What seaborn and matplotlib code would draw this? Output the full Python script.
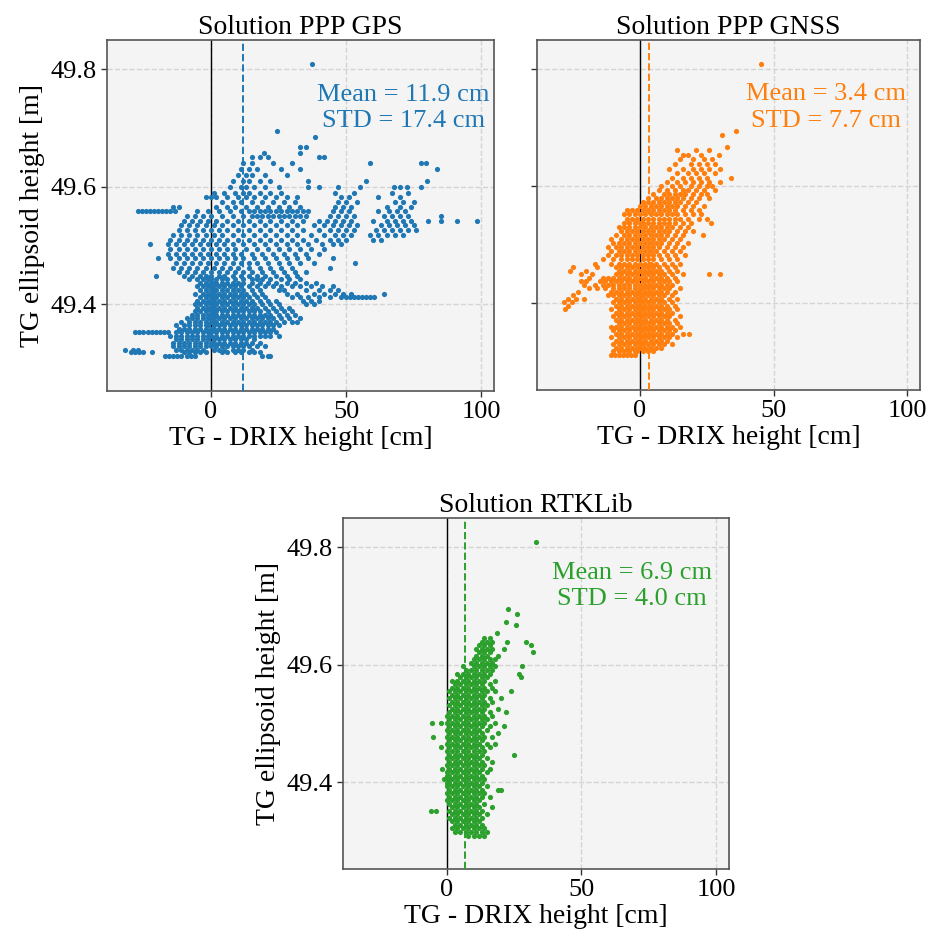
import pandas as pd
import seaborn as sns
import matplotlib
matplotlib.use("Agg")
import matplotlib.pyplot as plt

# each row: (TG ellipsoid height [m], list of TG - DRIX differences [cm])
gps_rows = [
    (49.312, [-17, -15.5, -14, -12.5, -11, -9, -7.5, -6, 19, 21, 22]),
    (49.318, [-29.5, -28, -26.5, -25, -22, -10, -8, -6, -4, -2, 4, 6, 9, 11, 14, 16, 18]),
    (49.322, [-32, -29, -27, -13, -11, -9, -7, -5, -3, 1, 3, 5, 8, 10, 12, 15]),
    (49.328, [-14, -12, -10, -8, -6, -4, -2, 0, 2, 4, 6, 8, 10, 12, 14, 17, 20]),
    (49.334, [-14, -12, -10, -8, -6, -4, -2, 0, 1, 3, 5, 7, 9, 11, 13, 15, 18]),
    (49.340, [-13, -11, -9, -7, -5, -3, -1, 1, 3, 5, 7, 9, 11, 13, 16]),
    (49.346, [-15, -13, -11, -9, -7, -5, -3, -1, 0, 2, 4, 6, 8, 10, 12, 14, 16, 18, 20, 22, 25]),
    (49.352, [-28, -26.5, -25, -23.5, -22, -20.5, -19, -17.5, -16, -13, -11, -9, -7, -5, -3, -1, 0, 2, 4,
              6, 8, 10, 12, 14, 16, 18, 20, 22, 24]),
    (49.358, [-12, -10, -8, -6, -4, -2, 0, 1, 3, 5, 7, 9, 11, 13, 15, 17, 19, 21, 23]),
    (49.364, [-13, -10, -8, -6, -4, -2, -1, 1, 3, 5, 7, 9, 11, 13, 15, 17, 19, 21, 23, 25]),
    (49.370, [-11, -8, -6, -4, -2, 0, 1, 2, 4, 6, 8, 10, 12, 14, 16, 18, 20, 22, 24, 27, 30, 32]),
    (49.376, [-9, -7, -5, -3, -1, 0, 1, 3, 5, 7, 9, 11, 13, 15, 17, 19, 21, 23, 26, 29, 33]),
    (49.382, [-7, -5, -3, -1, 0, 1, 2, 4, 6, 8, 10, 12, 14, 16, 18, 20, 22, 25, 28, 31]),
    (49.388, [-6, -4, -2, 0, 1, 2, 4, 6, 8, 10, 12, 14, 16, 18, 21, 24, 27, 30]),
    (49.394, [-5, -3, -1, 0, 1, 3, 5, 7, 9, 11, 13, 15, 17, 20, 23, 26, 29]),
    (49.400, [-6, -4, -2, 0, 1, 2, 4, 6, 8, 10, 12, 14, 16, 19, 22, 25, 35, 38]),
    (49.406, [-5, -3, -1, 0, 1, 3, 5, 7, 9, 11, 13, 15, 18, 21, 24, 34, 37, 40]),
    (49.412, [-4, -2, 0, 1, 2, 4, 6, 8, 10, 12, 14, 17, 20, 30, 33, 36, 40, 44, 48, 50, 51.5, 53, 54.5,
              56, 57.5, 59, 60.5]),
    (49.418, [-6, -3, -1, 0, 1, 3, 5, 7, 9, 11, 13, 16, 19, 28, 32, 38, 42, 46, 49, 52, 64]),
    (49.424, [-4, -2, 0, 1, 2, 4, 6, 8, 10, 12, 15, 18, 25, 27, 35, 40, 44, 47]),
    (49.430, [-5, -3, -1, 0, 1, 3, 5, 7, 9, 11, 14, 17, 20, 23, 26, 30, 33, 37, 41, 45]),
    (49.436, [-4, -2, 0, 1, 2, 4, 6, 8, 10, 12, 15, 18, 21, 24, 28, 31, 35, 39]),
    (49.442, [-8, -5, -3, -1, 0, 2, 4, 6, 9, 12, 15, 17, 19, 22, 26, 29, 33]),
    (49.448, [-20.5, -10, -7, -4, -2, 0, 3, 5, 8, 11, 14, 17, 20, 24, 28, 32]),
    (49.455, [-12, -9, -6, -3, 0, 3, 6, 9, 12, 15, 19, 23, 27, 31, 35]),
    (49.462, [-14, -11, -8, -5, -2, 1, 4, 7, 10, 14, 18, 22, 26, 30, 44]),
    (49.470, [-13, -10, -7, -4, -1, 2, 5, 8, 11, 14, 17, 21, 25, 29, 33, 38, 53.5]),
    (49.478, [-19.5, -15, -12, -9, -6, -3, 0, 3, 6, 9, 12, 16, 20, 24, 28, 32, 36, 45]),
    (49.486, [-16, -13, -10, -7, -4, -1, 2, 5, 8, 11, 15, 19, 23, 27, 31, 35, 40]),
    (49.494, [-15, -12, -9, -6, -3, 0, 3, 6, 9, 13, 17, 21, 25, 29, 33, 37, 42]),
    (49.502, [-22.5, -16, -13, -10, -7, -4, -1, 2, 5, 8, 12, 16, 20, 24, 28, 32, 36, 41, 45, 48]),
    (49.510, [-15, -12, -9, -6, -3, 0, 3, 6, 10, 14, 18, 22, 26, 30, 34, 39, 44, 47, 50, 60, 63]),
    (49.518, [-14, -11, -8, -5, -2, 1, 4, 8, 12, 16, 20, 24, 28, 32, 37, 42, 46, 49, 52, 59, 62, 65, 68, 71]),
    (49.526, [-12, -9, -6, -3, 0, 3, 6, 10, 14, 18, 22, 26, 30, 34, 40, 44, 47, 50, 53, 61, 64, 67, 70,
              73, 76]),
    (49.534, [-11, -8, -5, -2, 1, 4, 8, 12, 16, 20, 24, 28, 32, 38, 42, 45, 48, 51, 54, 63, 66, 69, 72, 75]),
    (49.542, [-10, -7, -4, -1, 2, 6, 10, 14, 18, 22, 26, 30, 34, 40, 43, 46, 49, 52, 60, 65, 68, 71, 74,
              80.5, 85, 91, 98.5]),
    (49.550, [-9, -6, -3, 0, 4, 8, 12, 15, 17, 19, 21, 23, 25, 27, 29, 31, 33, 35, 44, 47, 50, 53, 64, 67,
              70, 73, 85]),
    (49.558, [-27, -25.5, -24, -22.5, -21, -19.5, -18, -16.5, -15, -13.5, -5, -1, 3, 7, 11, 14, 16, 18,
              20, 22, 24, 26, 28, 30, 32, 34, 36, 45, 48, 51, 62, 66, 69, 72]),
    (49.566, [-14, -12, 2, 6, 9, 13, 17, 21, 25, 29, 33, 46, 49, 52, 65, 70, 74]),
    (49.574, [4, 8, 11, 15, 19, 23, 27, 31, 47, 50, 54, 68, 71, 75]),
    (49.582, [-2, 0, 2, 6, 10, 13, 16, 20, 24, 28, 32, 48, 51, 62, 70]),
    (49.590, [1, 5, 9, 12, 14, 18, 22, 26, 46, 53, 67, 73]),
    (49.600, [7, 11, 13, 16, 20, 25, 36, 40, 47, 55, 67.7, 70, 72.7, 77.6]),
    (49.610, [8, 12, 14, 18, 22, 36, 57.5, 80]),
    (49.620, [10, 13, 15, 20, 28]),
    (49.630, [11, 14, 17, 26, 33, 83.7]),
    (49.640, [12, 15, 23, 30, 59, 77.6, 79.5]),
    (49.650, [15, 18, 21, 40, 42]),
    (49.657, [19.6, 33]),
    (49.668, [33, 35]),
    (49.685, [38.6]),
    (49.695, [24.5]),
    (49.809, [37.3]),
]

gnss_rows = [
    (49.312, [-11, -9.5, -8, -6.5, -5, -3.5, -2]),
    (49.318, [-10, -8, -6, -4, -2, -1, 1, 3, 5]),
    (49.324, [-9, -7, -5, -3, -1, 0, 2, 4, 6, 8]),
    (49.330, [-10, -8, -6, -4, -2, 0, 1, 3, 5, 7, 9, 12]),
    (49.336, [-9, -7, -5, -3, -1, 0, 2, 4, 6, 8, 10]),
    (49.342, [-11, -8, -6, -4, -2, 0, 1, 3, 5, 7, 9, 11, 14]),
    (49.348, [-9, -7, -5, -3, -1, 0, 2, 4, 6, 8, 10, 12, 16, 18.5]),
    (49.354, [-10, -8, -6, -4, -2, 0, 1, 3, 5, 7, 9, 11, 13]),
    (49.360, [-11, -9, -7, -5, -3, -1, 0, 2, 4, 6, 8, 10, 12, 15]),
    (49.366, [-8, -6, -4, -2, 0, 1, 3, 5, 7, 9, 11, 14]),
    (49.372, [-9, -7, -5, -3, -1, 0, 2, 4, 6, 8, 10, 13]),
    (49.378, [-10, -8, -6, -4, -2, 0, 1, 3, 5, 7, 9, 11, 15]),
    (49.384, [-9, -7, -5, -3, -1, 0, 2, 4, 6, 8, 10, 12]),
    (49.390, [-28, -11, -8, -6, -4, -2, 0, 1, 3, 5, 7, 9, 11, 14]),
    (49.396, [-27, -9, -7, -5, -3, -1, 0, 2, 4, 6, 8, 10, 13]),
    (49.402, [-28.5, -25.5, -10, -8, -6, -4, -2, 0, 1, 3, 5, 7, 9, 12]),
    (49.408, [-27, -24, -21, -9, -7, -5, -3, -1, 0, 2, 4, 6, 8, 11, 14]),
    (49.414, [-25, -12, -10, -8, -6, -4, -2, 0, 1, 3, 5, 7, 9, 12]),
    (49.420, [-23, -11, -9, -7, -5, -3, -1, 0, 2, 4, 6, 8, 10, 13]),
    (49.426, [-19, -16, -13, -10, -8, -6, -4, -2, 0, 1, 3, 5, 7, 9, 11, 15]),
    (49.432, [-21, -17, -14, -12, -10, -8, -6, -4, -2, 0, 2, 4, 6, 8, 10, 12]),
    (49.438, [-22, -20, -15, -13, -11, -9, -7, -5, -3, -1, 1, 3, 5, 7, 9, 11, 14]),
    (49.444, [-19, -14, -12, -10, -8, -6, -4, -2, 0, 2, 4, 6, 8, 10, 13]),
    (49.450, [-22, -18, -9, -7, -5, -3, -1, 1, 3, 5, 7, 9, 12, 16, 25.9, 29.9]),
    (49.456, [-26, -20, -8, -6, -4, -2, 0, 2, 4, 6, 8, 11, 14]),
    (49.462, [-25, -16, -9, -7, -5, -3, -1, 1, 3, 5, 7, 10, 13]),
    (49.468, [-17, -11, -8, -6, -4, -2, 0, 2, 4, 6, 9, 12, 15]),
    (49.475, [-14, -10, -7, -5, -3, -1, 1, 3, 5, 8, 11, 14]),
    (49.482, [-12, -9, -7, -5, -3, -1, 1, 3, 5, 7, 10, 13, 17]),
    (49.489, [-11, -8, -6, -4, -2, 0, 2, 4, 6, 9, 12, 15]),
    (49.496, [-12, -9, -7, -5, -3, -1, 1, 3, 5, 7, 10, 13, 16]),
    (49.503, [-10, -8, -6, -4, -2, 0, 2, 4, 6, 8, 11, 14, 18]),
    (49.510, [-11, -7, -5, -3, -1, 1, 3, 5, 7, 9, 12, 15]),
    (49.517, [-9, -6, -4, -2, 0, 2, 4, 6, 8, 10, 13, 16, 23.6]),
    (49.524, [-7, -5, -3, -1, 1, 3, 5, 7, 9, 11, 14, 17, 20]),
    (49.531, [-8, -6, -4, -2, 0, 2, 4, 6, 8, 10, 12, 15, 18]),
    (49.538, [-6, -4, -2, 0, 1, 3, 5, 7, 9, 11, 13, 16, 19, 26.5]),
    (49.545, [-5, -3, -1, 1, 3, 5, 7, 9, 11, 13, 15, 18, 22, 25]),
    (49.552, [-6, -4, -2, 0, 2, 4, 6, 8, 10, 12, 14, 17, 20, 23]),
    (49.559, [-5, -3, -1, 1, 3, 5, 7, 9, 11, 13, 16, 19, 22]),
    (49.566, [0, 2, 4, 6, 8, 10, 12, 14, 17, 20, 24]),
    (49.573, [1, 3, 5, 7, 9, 11, 13, 15, 18, 21]),
    (49.580, [3, 6, 8, 10, 12, 14, 16, 19, 22, 26]),
    (49.587, [5, 9, 11, 13, 15, 17, 20, 23, 25]),
    (49.594, [7, 10, 13, 16, 18, 21, 24, 28]),
    (49.601, [8, 12, 15, 19, 22, 25, 27]),
    (49.608, [10, 14, 17, 20, 23, 26, 30]),
    (49.615, [12, 16, 19, 22, 25, 34]),
    (49.622, [14, 18, 21, 24, 28]),
    (49.630, [11, 16, 20, 23, 26, 30]),
    (49.638, [13, 19, 22, 25, 28]),
    (49.646, [15, 20, 24, 27]),
    (49.654, [16, 18, 23, 29.5]),
    (49.662, [14, 21, 26]),
    (49.668, [32.6]),
    (49.688, [30.8]),
    (49.695, [36]),
    (49.809, [45.2]),
]

rtk_rows = [
    (49.309, [8, 10, 12, 14]),
    (49.315, [3, 5, 7, 9, 11, 13, 15]),
    (49.321, [2, 4, 6, 8, 10, 12, 14]),
    (49.327, [3, 5, 7, 9, 11, 13]),
    (49.333, [2, 4, 6, 8, 10, 12]),
    (49.339, [1, 3, 5, 7, 9, 11, 13]),
    (49.345, [2, 4, 6, 8, 10, 12, 15]),
    (49.351, [-5.7, -4, 1, 3, 5, 7, 9, 11, 13]),
    (49.357, [2, 4, 6, 8, 10, 12, 17]),
    (49.363, [1, 3, 5, 7, 9, 11, 14]),
    (49.369, [0, 2, 4, 6, 8, 10, 12]),
    (49.375, [1, 3, 5, 7, 9, 11, 13, 16]),
    (49.381, [0, 2, 4, 6, 8, 10, 12, 14]),
    (49.387, [1, 3, 5, 7, 9, 11, 13, 19, 20]),
    (49.393, [0, 2, 4, 6, 8, 10, 12, 15]),
    (49.399, [0, 1, 3, 5, 7, 9, 11, 13]),
    (49.405, [-1, 1, 2, 4, 6, 8, 10, 12, 14]),
    (49.411, [0, 1, 3, 5, 7, 9, 11, 13]),
    (49.417, [0, 2, 4, 6, 8, 10, 12, 15]),
    (49.423, [-1.6, 1, 3, 5, 7, 9, 11, 13, 16]),
    (49.429, [0, 2, 4, 6, 8, 10, 12, 14]),
    (49.435, [1, 3, 5, 7, 9, 11, 13, 17]),
    (49.441, [0, 2, 4, 6, 8, 10, 12, 15]),
    (49.447, [1, 3, 5, 7, 9, 11, 13, 25]),
    (49.453, [0, 2, 4, 6, 8, 10, 12, 14]),
    (49.459, [-2.2, 1, 3, 5, 7, 9, 11, 13, 16]),
    (49.465, [0, 2, 4, 6, 8, 10, 12, 15, 18]),
    (49.471, [1, 3, 5, 7, 9, 11, 13]),
    (49.477, [-5, 0, 2, 4, 6, 8, 10, 12, 14, 17]),
    (49.483, [1, 3, 5, 7, 9, 11, 13, 19]),
    (49.489, [0, 2, 4, 6, 8, 10, 12, 15]),
    (49.495, [1, 3, 5, 7, 9, 11, 13, 16, 21.3]),
    (49.501, [-5.3, -2, 0, 2, 4, 6, 8, 10, 12, 14, 18]),
    (49.507, [1, 3, 5, 7, 9, 11, 13, 15]),
    (49.513, [0, 2, 4, 6, 8, 10, 12, 14, 17]),
    (49.519, [1, 3, 5, 7, 9, 11, 13, 16, 22]),
    (49.525, [2, 4, 6, 8, 10, 12, 14, 19]),
    (49.531, [1, 3, 5, 7, 9, 11, 13, 15]),
    (49.537, [2, 4, 6, 8, 10, 12, 14, 17]),
    (49.543, [1, 3, 5, 7, 9, 11, 13, 16, 20]),
    (49.549, [2, 4, 6, 8, 10, 12, 14]),
    (49.555, [1, 3, 5, 7, 9, 11, 13, 15, 18, 23.8]),
    (49.561, [2, 4, 6, 8, 10, 12, 14, 17]),
    (49.567, [3, 5, 7, 9, 11, 13, 16]),
    (49.573, [2, 4, 6, 8, 10, 12, 14, 18]),
    (49.579, [5, 7, 9, 11, 13, 15, 27.5]),
    (49.585, [4, 6, 8, 10, 12, 14, 16, 27]),
    (49.591, [7, 9, 11, 13, 15, 17]),
    (49.597, [6, 10, 12, 14, 16, 18, 28]),
    (49.603, [9, 11, 13, 15, 17]),
    (49.609, [10, 12, 14, 16, 18]),
    (49.615, [11, 13, 15, 19]),
    (49.621, [12, 14, 16, 32.2]),
    (49.627, [11, 13, 15, 17, 21.3]),
    (49.633, [12, 14, 16, 31.2]),
    (49.639, [13, 15, 17, 22.5, 29.3]),
    (49.645, [14, 16]),
    (49.654, [18.8]),
    (49.668, [25.6]),
    (49.672, [22]),
    (49.687, [26.2]),
    (49.695, [22.9]),
    (49.809, [33]),
]

titles = ["Solution PPP GPS", "Solution PPP GNSS", "Solution RTKLib"]
means = [11.9, 3.4, 6.9]
stds = [17.4, 7.7, 4.0]
colors = ["#1f77b4", "#ff7f0e", "#2ca02c"]


def expand(rows):
    xs, ys = [], []
    for y, row in rows:
        for x in row:
            xs.append(x)
            ys.append(y)
    return pd.DataFrame({"diff": xs, "height": ys})


sns.set_theme(style="ticks")
plt.rcParams["font.family"] = ["Liberation Serif", "DejaVu Serif"]
plt.rcParams["text.color"] = "black"
plt.rcParams["axes.labelcolor"] = "black"
plt.rcParams["xtick.color"] = "black"
plt.rcParams["ytick.color"] = "black"

fig = plt.figure(figsize=(9.48, 9.43), dpi=100)
boxes = [
    [0.1129, 0.5854, 0.4082, 0.3722],
    [0.5665, 0.5864, 0.4040, 0.3712],
    [0.3618, 0.0785, 0.4072, 0.3722],
]
text_x = [0.765, 0.755, 0.749]

for i, rows in enumerate([gps_rows, gnss_rows, rtk_rows]):
    ax = fig.add_axes(boxes[i])
    ax.set_facecolor("#f4f4f4")
    df = expand(rows)
    sns.scatterplot(data=df, x="diff", y="height", ax=ax, color=colors[i],
                    s=14, linewidth=0, alpha=1, zorder=3)
    ax.axvline(0, color="black", lw=1, zorder=2)
    ax.axvline(means[i], color=colors[i], lw=1.4, ls="--", zorder=4)
    ax.set_xlim(-38.5, 104.8)
    ax.set_ylim(49.252, 49.85)
    ax.set_xticks([0, 50, 100])
    ax.set_yticks([49.4, 49.6, 49.8])
    ax.grid(True, ls="--", color="#d4d4d4", lw=1)
    ax.set_axisbelow(True)
    ax.tick_params(labelsize=19, length=4, width=1, color="#333333")
    for sp in ax.spines.values():
        sp.set_color("#555555")
        sp.set_linewidth(1.2)
    ax.set_title(titles[i], fontsize=20, pad=3)
    ax.set_xlabel("TG - DRIX height [cm]", fontsize=20, labelpad=2)
    if i == 1:
        ax.set_ylabel("")
        ax.set_yticklabels([])
    else:
        ax.set_ylabel("TG ellipsoid height [m]", fontsize=20, labelpad=4)
    ax.text(text_x[i], 0.876, f"Mean = {means[i]:.1f} cm\nSTD = {stds[i]:.1f} cm",
            transform=ax.transAxes, ha="center", va="top", fontsize=19,
            color=colors[i], linespacing=1.25, zorder=5)

fig.savefig("out.png", dpi=100)
